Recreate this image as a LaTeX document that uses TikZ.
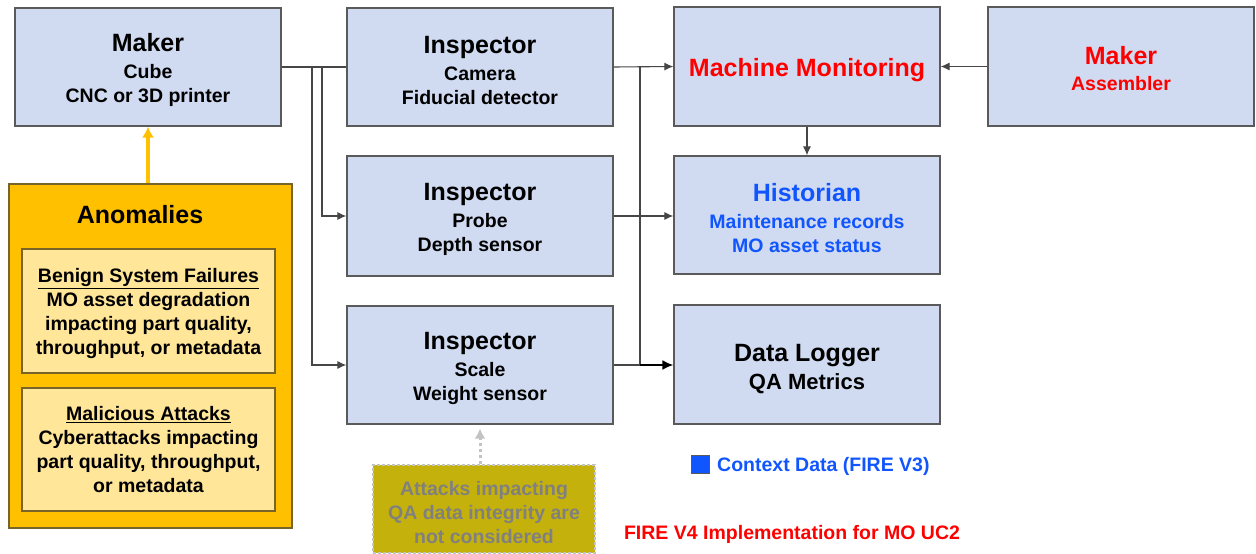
\documentclass[tikz,border=0pt]{standalone}
\usepackage{fontspec}
\setmainfont{Liberation Sans}
\usetikzlibrary{arrows.meta}
\definecolor{boxfill}{RGB}{208,219,241}
\definecolor{boxline}{RGB}{90,90,90}
\definecolor{anomfill}{RGB}{255,192,0}
\definecolor{anomline}{RGB}{120,100,40}
\definecolor{subfill}{RGB}{255,230,153}
\definecolor{attfill}{RGB}{196,177,12}
\definecolor{attline}{RGB}{195,195,195}
\definecolor{atttext}{RGB}{128,128,128}
\definecolor{ctxblue}{RGB}{17,85,255}
\definecolor{conn}{RGB}{70,70,70}
\newcommand{\subf}{\fontsize{19.5}{24}\selectfont\bfseries}
\newcommand{\ttlf}{\fontsize{25}{27}\selectfont\bfseries}
\newcommand{\lift}[1]{\rule{0pt}{#1}}
\begin{document}
\begin{tikzpicture}[x=1pt,y=-1pt,
  box/.style={draw=boxline, fill=boxfill, line width=1.2pt, minimum width=266pt,
    minimum height=118pt, inner sep=0pt, align=center, font=\subf},
  subbox/.style={draw=anomline, fill=subfill, line width=1.2pt, minimum width=253pt,
    minimum height=124pt, inner sep=0pt, align=center, font=\subf},
  conline/.style={draw=conn, line width=1.1pt},
  conarrow/.style={conline, -{Latex[length=9pt,width=8pt]}},
]
\useasboundingbox (0,0) rectangle (1256,554);

% main boxes
\node[box] (maker) at (148,67) {\lift{24pt}{\ttlf Maker}\\[3pt]Cube\\CNC or 3D printer};
\node[box] (cam) at (480,67) {\lift{24pt}{\ttlf Inspector}\\[3pt]Camera\\Fiducial detector};
\node[box, minimum height=119pt] (mm) at (807,66.5) {\lift{26pt}\textcolor{red}{\ttlf Machine Monitoring}};
\node[box, minimum height=119pt, text=red] (asm) at (1121,66.5) {\lift{22pt}{\ttlf Maker}\\[2pt]Assembler};
\node[box, minimum height=120pt] (probe) at (480,216) {\lift{24pt}{\ttlf Inspector}\\[3pt]Probe\\Depth sensor};
\node[box, text=ctxblue] (hist) at (807,215) {\lift{24pt}{\ttlf Historian}\\[3pt]Maintenance records\\MO asset status};
\node[box] (scale) at (480,365) {\lift{24pt}{\ttlf Inspector}\\[3pt]Scale\\Weight sensor};
\node[box, minimum height=119pt] (logger) at (807,364.5) {\lift{26pt}{\ttlf Data Logger}\\[4pt]{\fontsize{22}{24}\selectfont\bfseries QA Metrics}};

% anomalies
\node[draw=anomline, fill=anomfill, line width=1.2pt, minimum width=283pt, minimum height=344pt, inner sep=0pt] (anom) at (150.5,356) {};
\node[font=\ttlf, inner sep=0pt] (anomt) at (140,215) {Anomalies};
\node[subbox] (benign) at (148.5,311) {\lift{18.5pt}\underline{Benign System Failures}\\MO asset degradation\\impacting part quality,\\throughput, or metadata};
\node[subbox, minimum height=123pt] (mal) at (148.5,449.5) {\underline{Malicious Attacks}\\Cyberattacks impacting\\part quality, throughput,\\or metadata};

% attacks not considered
\node[draw=attline, fill=attfill, line width=1.6pt, dash pattern=on 3pt off 2pt,
  minimum width=222pt, minimum height=88pt, inner sep=0pt] (att) at (484,509) {};
\node[align=center, font=\subf, text=atttext, inner sep=0pt] (attt) at (484,513)
  {Attacks impacting\\QA data integrity are\\not considered};

% connectors
\coordinate (j1) at (322,67);
\coordinate (j2) at (312,67);
\coordinate (j3) at (640,67);
\coordinate (j4) at (640,365);
\draw[conline] (maker.east) -- (cam.west);
\draw[conarrow] (j1) |- (probe.west);
\draw[conarrow] (j2) |- (scale.west);
\draw[conarrow] (cam.east) -- (mm.west);
\draw[conline] (j3) -- (j4);
\draw[conarrow] (probe.east) -- (probe.east -| hist.west);
\draw[conline] (scale.east) -- (j4);
\draw[draw=black, line width=2pt, -{Latex[length=11pt,width=10pt]}] (j4) -- (j4 -| logger.west);
\draw[conarrow] (mm.south) -- (hist.north);
\draw[conarrow] (asm.west) -- (mm.east);

\draw[anomfill, line width=4pt, -{Latex[length=11pt,width=12pt]}] (anom.north -| maker.south) -- (maker.south);
\draw[attline, line width=3pt, dash pattern=on 3pt off 3pt, -{Latex[length=10pt,width=11pt]}, shorten >=4pt] (att.north -| scale.south) -- (scale.south);

% legend and footer
\node[draw=boxline, fill=ctxblue, line width=0.8pt, minimum size=18pt, inner sep=0pt] (leg) at (700,464) {};
\node[anchor=west, font=\subf, text=ctxblue, inner sep=0pt] (legt) at (717,466) {Context Data (FIRE V3)};
\node[font=\subf, text=red, inner sep=0pt] (foot) at (792,534) {FIRE V4 Implementation for MO UC2};
\end{tikzpicture}
\end{document}
